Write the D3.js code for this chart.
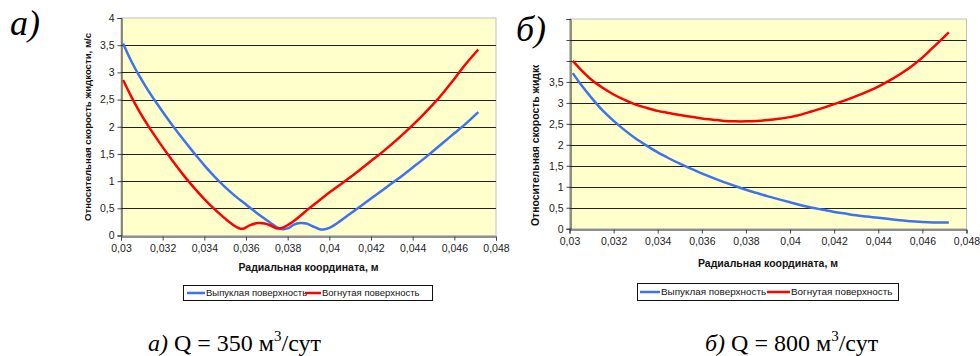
<!DOCTYPE html>
<html>
<head>
<meta charset="utf-8">
<script src="https://cdn.jsdelivr.net/npm/d3@7"></script>
<style>
  body { margin: 0; background: #fff; }
  svg text { font-family: "Liberation Sans", Arial, sans-serif; }
  .caption, .panel { font-family: "Liberation Serif", "Times New Roman", serif !important; }
</style>
</head>
<body>
<svg width="980" height="356"></svg>
<script>
(function (d3) {
  'use strict';

  // --- data ---
  const seriesNames = ['Выпуклая поверхность', 'Вогнутая поверхность'];
  const xTicks = [0.03, 0.032, 0.034, 0.036, 0.038, 0.04, 0.042, 0.044, 0.046, 0.048];

  // а) Q = 350
  const convexA_x = [0.0301, 0.0305, 0.0309, 0.0313, 0.0317, 0.0321, 0.0325, 0.0330, 0.0335, 0.0340,
    0.0345, 0.0350, 0.0355, 0.0360, 0.0365, 0.0370, 0.03745, 0.0377, 0.0380, 0.0383,
    0.0386, 0.0389, 0.0392, 0.0395, 0.0397, 0.0400, 0.0405, 0.0410, 0.0415, 0.0420,
    0.0425, 0.0430, 0.0435, 0.0440, 0.0445, 0.0450, 0.0455, 0.0460, 0.0465, 0.04715];
  const convexA_v = [3.53, 3.2, 2.92, 2.67, 2.44, 2.22, 2.01, 1.76, 1.52, 1.29,
    1.08, 0.89, 0.72, 0.57, 0.42, 0.28, 0.16, 0.12, 0.13, 0.2,
    0.23, 0.22, 0.17, 0.12, 0.11, 0.14, 0.26, 0.4, 0.54, 0.68,
    0.82, 0.96, 1.1, 1.25, 1.4, 1.56, 1.72, 1.88, 2.04, 2.27];
  const concaveA_x = [0.0301, 0.0305, 0.0309, 0.0313, 0.0317, 0.0321, 0.0325, 0.0330, 0.0335, 0.0340,
    0.0345, 0.0350, 0.0354, 0.0357, 0.0359, 0.0362, 0.0366, 0.0369, 0.0372, 0.0375,
    0.0378, 0.0382, 0.0386, 0.0390, 0.0395, 0.0400, 0.0405, 0.0410, 0.0415, 0.0420,
    0.0425, 0.0430, 0.0435, 0.0440, 0.0445, 0.0450, 0.0455, 0.0460, 0.0465, 0.04715];
  const concaveA_v = [2.86, 2.55, 2.27, 2.02, 1.79, 1.57, 1.36, 1.11, 0.88, 0.67,
    0.48, 0.31, 0.19, 0.13, 0.13, 0.19, 0.23, 0.22, 0.18, 0.13,
    0.15, 0.24, 0.36, 0.49, 0.64, 0.79, 0.93, 1.07, 1.22, 1.37,
    1.52, 1.68, 1.85, 2.03, 2.22, 2.42, 2.64, 2.88, 3.13, 3.42];
  const yTicksA = [0, 0.5, 1, 1.5, 2, 2.5, 3, 3.5, 4];

  // б) Q = 800
  const convexB_x = [0.03015, 0.0305, 0.0310, 0.0315, 0.0320, 0.0325, 0.0330, 0.0335, 0.0340, 0.0345,
    0.0350, 0.0355, 0.0360, 0.0365, 0.0370, 0.0375, 0.0380, 0.0385, 0.0390, 0.0395,
    0.0400, 0.0405, 0.0410, 0.0415, 0.0420, 0.0425, 0.0430, 0.0435, 0.0440, 0.0445,
    0.0450, 0.0455, 0.0460, 0.0465, 0.0472];
  const convexB_v = [3.71, 3.45, 3.12, 2.82, 2.57, 2.35, 2.15, 1.98, 1.82, 1.68,
    1.55, 1.43, 1.32, 1.21, 1.11, 1.02, 0.93, 0.85, 0.77, 0.7,
    0.63, 0.56, 0.5, 0.45, 0.4, 0.36, 0.32, 0.29, 0.26, 0.23,
    0.2, 0.18, 0.16, 0.15, 0.15];
  const concaveB_x = [0.03015, 0.0305, 0.0310, 0.0315, 0.0320, 0.0325, 0.0330, 0.0335, 0.0340, 0.0345,
    0.0350, 0.0355, 0.0360, 0.0365, 0.0370, 0.0375, 0.0380, 0.0385, 0.0390, 0.0395,
    0.0400, 0.0405, 0.0410, 0.0415, 0.0420, 0.0425, 0.0430, 0.0435, 0.0440, 0.0445,
    0.0450, 0.0455, 0.0460, 0.0465, 0.0472];
  const concaveB_v = [4.0, 3.8, 3.55, 3.36, 3.2, 3.07, 2.96, 2.88, 2.81, 2.76,
    2.71, 2.67, 2.63, 2.6, 2.57, 2.56, 2.56, 2.57, 2.59, 2.62,
    2.66, 2.72, 2.8, 2.88, 2.97, 3.06, 3.16, 3.27, 3.39, 3.53,
    3.69, 3.87, 4.08, 4.33, 4.68];
  const yTicksB = [0, 0.5, 1, 1.5, 2, 2.5, 3, 3.5, 4, 4.5, 5];
  const yLabelsB = [0, 0.5, 1, 1.5, 2, 2.5, 3, 3.5];

  const yTitle = 'Относительная скорость жидкости, м/с';
  const xTitle = 'Радиальная координата, м';
  const colors = ['#3f72f0', '#ff0000'];

  const svg = d3.select('svg');
  const fmt = d => String(+d.toFixed(4)).replace('.', ',');
  const zip = (xs, vs) => xs.map((x, i) => ({ x: x, v: vs[i] }));

  const drawChart = cfg => {
    const x = d3.scaleLinear().domain([0.03, 0.048]).range([cfg.left, cfg.right]);
    const y = d3.scaleLinear().domain([0, cfg.yMax]).range([cfg.bottom, cfg.top]);

    svg.append('rect')
      .attr('x', cfg.left).attr('y', cfg.top)
      .attr('width', cfg.right - cfg.left).attr('height', cfg.bottom - cfg.top)
      .attr('fill', '#ffffcc')
      .attr('stroke', '#c0c0c0');

    // gridlines
    svg.append('g').selectAll('line')
      .data(cfg.yTicks.filter(t => t > 0 && t < cfg.yMax))
      .enter().append('line')
        .attr('x1', cfg.left).attr('x2', cfg.right)
        .attr('y1', d => Math.round(y(d)) + 0.5).attr('y2', d => Math.round(y(d)) + 0.5)
        .attr('stroke', '#222');

    const yAxis = d3.axisLeft(y)
      .tickValues(cfg.yTicks)
      .tickSize(4)
      .tickPadding(3)
      .tickFormat(d => cfg.yLabels.includes(d) ? fmt(d) : '');
    const yAxisG = svg.append('g')
      .attr('transform', `translate(${Math.round(cfg.left) + 0.5},0)`)
      .call(yAxis);
    yAxisG.selectAll('.domain').attr('stroke', '#222');
    yAxisG.selectAll('.tick line').attr('stroke', '#444');
    yAxisG.selectAll('text').attr('font-size', 10.5).attr('fill', '#222').style('font-family', 'Liberation Sans');

    const xAxis = d3.axisBottom(x)
      .tickValues(xTicks)
      .tickSize(4)
      .tickPadding(4)
      .tickFormat(fmt);
    const xAxisG = svg.append('g')
      .attr('transform', `translate(0,${Math.round(cfg.bottom) + 0.5})`)
      .call(xAxis);
    xAxisG.selectAll('.domain').attr('stroke', '#222');
    xAxisG.selectAll('.tick line').attr('stroke', '#444');
    xAxisG.selectAll('text').attr('font-size', 10.5).attr('fill', '#222').style('font-family', 'Liberation Sans');

    const line = d3.line()
      .x(d => x(d.x))
      .y(d => y(d.v))
      .curve(d3.curveCatmullRom.alpha(0.5));

    cfg.series.forEach((s, i) => {
      svg.append('path')
        .datum(s)
        .attr('fill', 'none')
        .attr('stroke', colors[i])
        .attr('stroke-width', 2.5)
        .attr('stroke-linejoin', 'round')
        .attr('d', line);
    });

    // y axis title, clipped like in the source
    const clipId = 'clip' + cfg.id;
    svg.append('clipPath').attr('id', clipId)
      .append('rect')
        .attr('x', cfg.yTitleX - 10).attr('y', cfg.yTitleClip)
        .attr('width', 20).attr('height', 260);
    svg.append('g')
      .attr('clip-path', `url(#${clipId})`)
      .append('text')
        .attr('transform', `translate(${cfg.yTitleX},${cfg.yTitleY}) rotate(-90)`)
        .attr('text-anchor', cfg.yTitleAnchor)
        .attr('dy', '0.35em')
        .attr('font-size', cfg.yTitleFs)
        .attr('font-weight', 'bold')
        .attr('fill', '#111')
        .text(yTitle);

    svg.append('text')
      .attr('x', (cfg.left + cfg.right) / 2)
      .attr('y', cfg.xTitleY)
      .attr('dy', '0.35em')
      .attr('text-anchor', 'middle')
      .attr('font-size', 10.5)
      .attr('font-weight', 'bold')
      .attr('fill', '#111')
      .text(xTitle);

    // legend
    const L = cfg.legend;
    const lg = svg.append('g');
    lg.append('rect')
      .attr('x', L.x + 0.5).attr('y', L.y + 0.5)
      .attr('width', L.w).attr('height', L.h)
      .attr('fill', '#fff').attr('stroke', '#111');
    const ly = L.y + L.h / 2 + 0.5;
    seriesNames.forEach((name, i) => {
      lg.append('line')
        .attr('x1', L.items[i][0]).attr('x2', L.items[i][1])
        .attr('y1', ly).attr('y2', ly)
        .attr('stroke', colors[i]).attr('stroke-width', 2.5);
      lg.append('text')
        .attr('x', L.items[i][1] + 1)
        .attr('y', ly).attr('dy', '0.35em')
        .attr('font-size', L.fs)
        .attr('fill', '#111')
        .text(name);
    });

    svg.append('text')
      .attr('class', 'panel')
      .attr('x', cfg.panel.x).attr('y', cfg.panel.y)
      .attr('font-size', 36)
      .attr('font-style', 'italic')
      .text(cfg.panel.text);

    const cap = svg.append('text')
      .attr('class', 'caption')
      .attr('x', cfg.caption.x).attr('y', 351)
      .attr('font-size', 24);
    cap.append('tspan').attr('font-style', 'italic').text(cfg.panel.text);
    cap.append('tspan').text(' Q = ' + cfg.caption.q + ' м');
    cap.append('tspan').attr('font-size', 15).attr('dy', -10).text('3');
    cap.append('tspan').attr('dy', 10).text('/сут');
  };

  drawChart({
    id: 'A', left: 121, right: 496, top: 18, bottom: 235.5, yMax: 4,
    yTicks: yTicksA, yLabels: yTicksA,
    series: [zip(convexA_x, convexA_v), zip(concaveA_x, concaveA_v)],
    yTitleX: 88, yTitleY: 127, yTitleAnchor: 'middle', yTitleClip: 0, yTitleFs: 9.6,
    xTitleY: 267,
    legend: { x: 183, y: 285, w: 249, h: 15, fs: 9.5, items: [[187, 205], [305, 321]] },
    panel: { text: 'а)', x: 10, y: 35 },
    caption: { x: 148, q: '350' }
  });

  drawChart({
    id: 'B', left: 569.5, right: 966.5, top: 19, bottom: 228.7, yMax: 5,
    yTicks: yTicksB, yLabels: yLabelsB,
    series: [zip(convexB_x, convexB_v), zip(concaveB_x, concaveB_v)],
    yTitleX: 535, yTitleY: 226, yTitleAnchor: 'start', yTitleClip: 65, yTitleFs: 10.4,
    xTitleY: 263,
    legend: { x: 637, y: 283, w: 261, h: 17, fs: 9.9, items: [[640, 660], [767, 790]] },
    panel: { text: 'б)', x: 516, y: 41 },
    caption: { x: 705, q: '800' }
  });

}(d3));
</script>
</body>
</html>
